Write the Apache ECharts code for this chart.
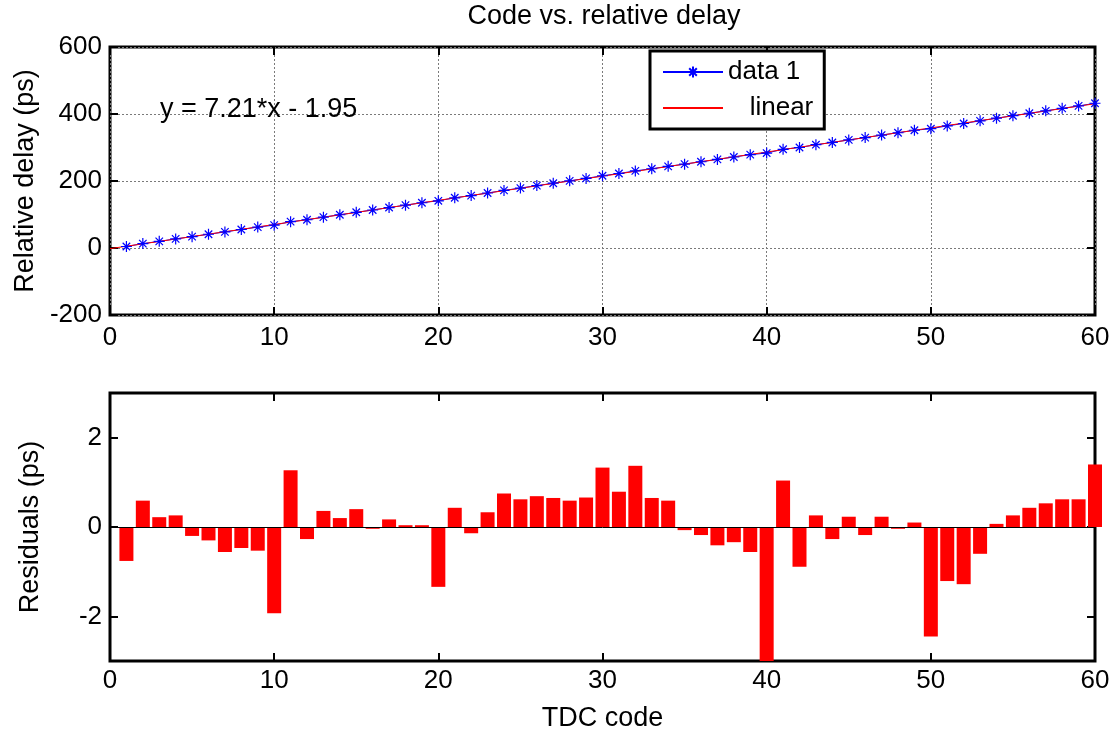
<!DOCTYPE html>
<html>
<head>
<meta charset="utf-8">
<script src="https://cdn.jsdelivr.net/npm/echarts@6/dist/echarts.min.js"></script>
<style>
  html, body { margin: 0; padding: 0; background: #ffffff; }
  #chart { width: 1116px; height: 738px; }
</style>
</head>
<body>
<div id="chart"></div>
<script>
// TDC codes 1..60
const codes = [
  1, 2, 3, 4, 5, 6, 7, 8, 9, 10,
  11, 12, 13, 14, 15, 16, 17, 18, 19, 20,
  21, 22, 23, 24, 25, 26, 27, 28, 29, 30,
  31, 32, 33, 34, 35, 36, 37, 38, 39, 40,
  41, 42, 43, 44, 45, 46, 47, 48, 49, 50,
  51, 52, 53, 54, 55, 56, 57, 58, 59, 60
];

// Measured relative delay per code (ps)
const delays = [
  4.50, 13.06, 19.90, 27.15, 33.90, 41.01, 47.96, 55.26, 62.41, 68.22,
  78.63, 84.30, 92.14, 99.19, 106.60, 113.37, 120.79, 127.87, 135.08, 140.91,
  149.89, 156.53, 164.21, 171.84, 178.92, 186.20, 193.37, 200.52, 207.80, 215.68,
  222.35, 230.14, 236.63, 243.78, 250.33, 257.43, 264.41, 271.69, 278.68, 283.45,
  294.70, 299.98, 308.34, 315.02, 322.73, 329.53, 337.15, 344.09, 351.44, 356.10,
  364.55, 371.69, 379.58, 387.46, 394.86, 402.24, 409.55, 416.85, 424.06, 432.05
];

// Residuals of the linear fit (ps)
const residuals = [
  -0.76, 0.59, 0.22, 0.26, -0.20, -0.30, -0.56, -0.47, -0.53, -1.93,
  1.27, -0.27, 0.36, 0.20, 0.40, -0.04, 0.17, 0.04, 0.04, -1.34,
  0.43, -0.14, 0.33, 0.75, 0.62, 0.69, 0.65, 0.59, 0.66, 1.33,
  0.79, 1.37, 0.65, 0.59, -0.07, -0.18, -0.41, -0.34, -0.56, -3.00,
  1.04, -0.89, 0.26, -0.27, 0.23, -0.18, 0.23, -0.04, 0.10, -2.45,
  -1.21, -1.28, -0.60, 0.07, 0.26, 0.43, 0.53, 0.62, 0.62, 1.40
];

// Linear fit coefficients: delay = slope * code + intercept
const fitSlope = 7.21;
const fitIntercept = -1.95;

// Axis ranges and tick labels
const codeRange = [0, 60];
const codeTicks = [0, 10, 20, 30, 40, 50, 60];
const delayRange = [-200, 600];
const delayTicks = [-200, 0, 200, 400, 600];
const residualRange = [-3, 3];
const residualTicks = [-2, 0, 2];

const FONT = '"Liberation Sans", Arial, Helvetica, sans-serif';
const BLACK = '#000000';

const delayPoints = codes.map((c, i) => [c, delays[i]]);
const residualPoints = codes.map((c, i) => [c, residuals[i]]);
const fitXs = [codeRange[0]].concat(codes);
const fitPoints = fitXs.map(x => [x, fitSlope * x + fitIntercept]);

// asterisk marker: vertical, horizontal and two diagonal strokes
const starPath = 'path://M5,0L5,10M0,5L10,5M1.6,1.6L8.4,8.4M8.4,1.6L1.6,8.4';

const tickStyle = { show: true, inside: true, length: 8, lineStyle: { color: BLACK, width: 2 } };

function bottomX(gridIndex, margin, extra) {
  return Object.assign({
    type: 'value', gridIndex: gridIndex, position: 'bottom',
    min: codeRange[0], max: codeRange[1],
    axisLine: { show: false, onZero: false },
    axisTick: Object.assign({ customValues: codeTicks }, tickStyle),
    axisLabel: { show: true, margin: margin, fontSize: 26, color: BLACK, fontFamily: FONT, customValues: codeTicks },
    splitLine: { show: false }
  }, extra || {});
}
function topX(gridIndex) {
  return {
    type: 'value', gridIndex: gridIndex, position: 'top',
    min: codeRange[0], max: codeRange[1],
    axisLine: { show: false, onZero: false },
    axisTick: Object.assign({ customValues: codeTicks }, tickStyle),
    axisLabel: { show: false },
    splitLine: { show: false }
  };
}
function sideY(gridIndex, range, ticks, position, labels, extra) {
  return Object.assign({
    type: 'value', gridIndex: gridIndex, position: position,
    min: range[0], max: range[1],
    axisLine: { show: false, onZero: false },
    axisTick: Object.assign({ customValues: ticks }, tickStyle),
    axisLabel: labels ? { show: true, margin: 8, fontSize: 26, color: BLACK, fontFamily: FONT, customValues: ticks } : { show: false },
    splitLine: { show: false }
  }, extra || {});
}

const gridLine = { show: true, lineStyle: { color: '#7a7a7a', width: 1, type: [2, 2] } };

const option = {
  backgroundColor: '#ffffff',
  animation: false,
  textStyle: { fontFamily: FONT },
  grid: [
    { left: 110, top: 47, width: 985, height: 268, show: true, borderColor: BLACK, borderWidth: 3, backgroundColor: '#ffffff' },
    { left: 110, top: 393, width: 985, height: 268, show: true, borderColor: BLACK, borderWidth: 3, backgroundColor: '#ffffff' }
  ],
  xAxis: [
    bottomX(0, 10, { interval: 10, splitLine: Object.assign({}, gridLine) }),
    topX(0),
    bottomX(1, 7, {
      name: 'TDC code', nameLocation: 'middle', nameGap: 44,
      nameTextStyle: { fontSize: 27, color: BLACK, fontFamily: FONT }
    }),
    topX(1)
  ],
  yAxis: [
    sideY(0, delayRange, delayTicks, 'left', true, {
      interval: 200, splitLine: Object.assign({}, gridLine),
      name: 'Relative delay (ps)', nameLocation: 'middle', nameGap: 71,
      nameTextStyle: { fontSize: 27, color: BLACK, fontFamily: FONT }
    }),
    sideY(0, delayRange, delayTicks, 'right', false),
    sideY(1, residualRange, residualTicks, 'left', true, {
      name: 'Residuals (ps)', nameLocation: 'middle', nameGap: 66,
      nameTextStyle: { fontSize: 27, color: BLACK, fontFamily: FONT }
    }),
    sideY(1, residualRange, residualTicks, 'right', false)
  ],
  legend: {
    left: 650, top: 51,
    orient: 'vertical',
    data: [
      { name: 'data 1' },
      { name: 'linear', itemStyle: { opacity: 0 } }
    ],
    backgroundColor: '#ffffff',
    borderColor: BLACK, borderWidth: 3,
    padding: [8, 11, 8, 12],
    itemGap: 10,
    itemWidth: 60, itemHeight: 14,
    itemTextGap: 4,
    textStyle: { fontSize: 26, color: BLACK, fontFamily: FONT },
    formatter: name => (name === 'linear' ? '   linear' : name)
  },
  graphic: [
    {
      type: 'text', x: 604, y: 3,
      style: { text: 'Code vs. relative delay', fontSize: 27, fill: BLACK, fontFamily: FONT, align: 'center', verticalAlign: 'top' }
    },
    {
      type: 'text', x: 160, y: 110,
      style: {
        text: 'y = ' + fitSlope.toFixed(2) + '*x ' + (fitIntercept < 0 ? '- ' : '+ ') + Math.abs(fitIntercept).toFixed(2),
        fontSize: 27, fill: BLACK, fontFamily: FONT, verticalAlign: 'middle'
      },
      z: 10
    }
  ],
  series: [
    {
      name: 'data 1', type: 'line', xAxisIndex: 0, yAxisIndex: 0,
      data: delayPoints,
      symbol: starPath, symbolSize: 11, showAllSymbol: true,
      lineStyle: { color: '#0000ff', width: 1 },
      itemStyle: { color: '#0000ff', borderColor: '#0000ff', borderWidth: 1.2 },
      emphasis: { disabled: true }
    },
    {
      name: 'linear', type: 'line', xAxisIndex: 0, yAxisIndex: 0,
      data: fitPoints,
      symbol: 'none',
      lineStyle: { color: '#ff0000', width: 1 },
      itemStyle: { color: '#ff0000' },
      emphasis: { disabled: true }
    },
    {
      name: 'residuals', type: 'bar', xAxisIndex: 2, yAxisIndex: 2,
      data: residualPoints,
      barWidth: 14,
      clip: true,
      itemStyle: { color: '#ff0000' },
      emphasis: { disabled: true },
      markLine: {
        silent: true, symbol: 'none', label: { show: false },
        lineStyle: { color: BLACK, width: 1, type: 'solid' },
        data: [{ yAxis: 0 }]
      }
    }
  ]
};

const chart = echarts.init(document.getElementById('chart'), null, { renderer: 'canvas' });
chart.setOption(option);
</script>
</body>
</html>
